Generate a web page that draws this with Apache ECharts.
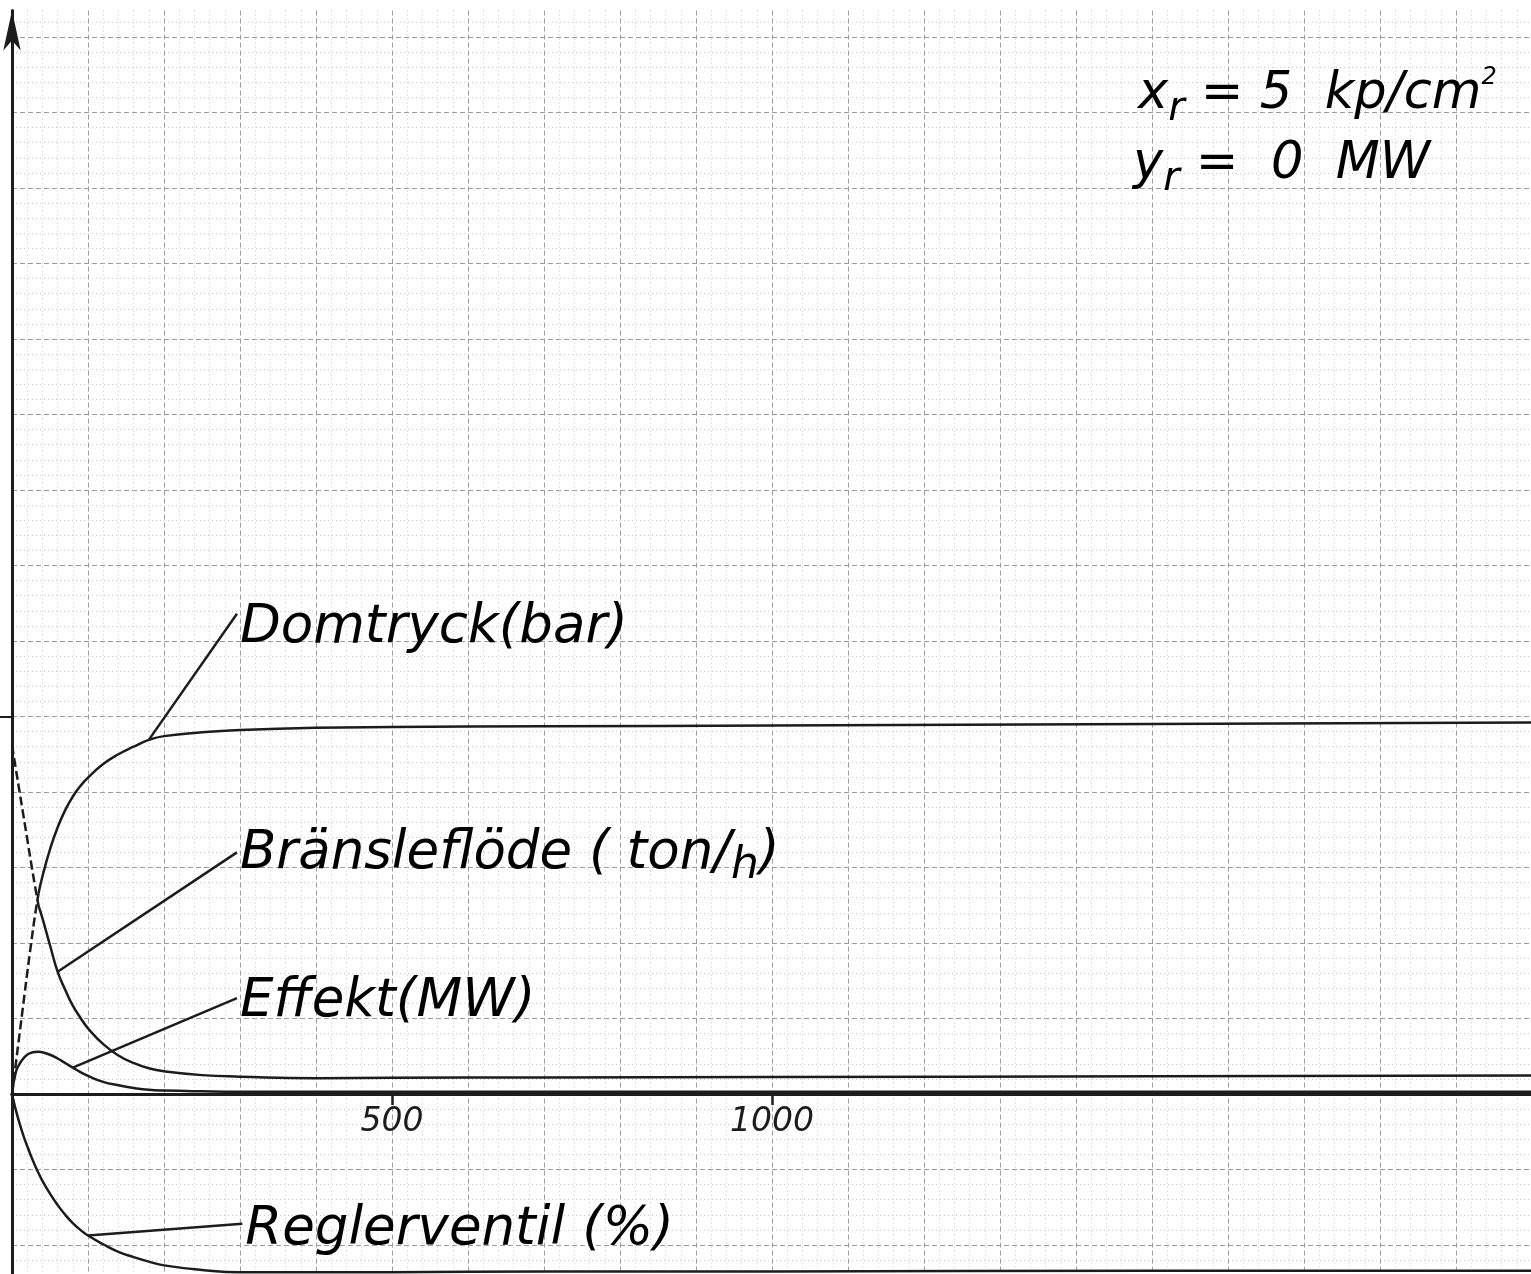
<!DOCTYPE html>
<html>
<head>
<meta charset="utf-8">
<title>Domtryck, bränsleflöde, effekt, reglerventil</title>
<script src="https://cdn.jsdelivr.net/npm/echarts@6/dist/echarts.min.js"></script>
<style>
  html, body { margin: 0; padding: 0; background: #fff; }
  #chart { width: 1531px; height: 1274px; }
</style>
</head>
<body>
<div id="chart"></div>
<script>
// tid (x-axeln)
const tid = [0, 5, 10, 15, 20, 25, 30, 35, 40, 50, 60, 70, 80, 90, 100, 120, 140, 160, 180, 200, 250, 300, 400, 500, 700, 1000, 1500, 2000]
// kurvor, en ruta = 1 enhet
const domtryck = [0, 0.40, 0.80, 1.20, 1.60, 1.98, 2.35, 2.66, 2.88, 3.24, 3.53, 3.76, 3.94, 4.08, 4.19, 4.37, 4.50, 4.60, 4.69, 4.74, 4.79, 4.82, 4.85, 4.86, 4.87, 4.88, 4.90, 4.92]
const bransleflode = [4.62, 4.31, 4.0, 3.69, 3.38, 3.07, 2.77, 2.49, 2.33, 1.97, 1.62, 1.38, 1.17, 1.01, 0.87, 0.66, 0.51, 0.41, 0.34, 0.30, 0.25, 0.23, 0.21, 0.215, 0.22, 0.225, 0.235, 0.245]
const effekt = [0, 0.29, 0.40, 0.47, 0.52, 0.545, 0.556, 0.558, 0.552, 0.52, 0.47, 0.41, 0.35, 0.29, 0.24, 0.16, 0.115, 0.08, 0.055, 0.045, 0.035, 0.03, 0.03, 0.03, 0.03, 0.03, 0.03, 0.03]
const reglerventil = [0, -0.21, -0.39, -0.55, -0.69, -0.82, -0.94, -1.05, -1.15, -1.32, -1.47, -1.60, -1.71, -1.80, -1.875, -1.99, -2.09, -2.16, -2.22, -2.27, -2.33, -2.36, -2.36, -2.36, -2.35, -2.35, -2.34, -2.34]
// siffror på tidsaxeln
const xTickLabels = [500, 1000]
const yTickMarks = [5]
// början av domtryck och bränsleflöde är streckad (t.o.m. index 7)
const dashEnd = 7

const font = "'DejaVu Sans', sans-serif"
const ink = '#1c1c1c'
const gridColor = '#9c9c9c'
const minorColor = '#c9c9c9'

// rutnätet: 75.5 px per enhet i höjd, nollan 1094 px från toppen
const unitPx = 75.5
const zeroPx = 1094
const yRange = {min: -3, max: 14.35}
const gridTop = zeroPx - yRange.max * unitPx
const gridBottomPx = zeroPx - yRange.min * unitPx

const chart = echarts.init(document.getElementById('chart'))

const pairs = (ys, from, to) => tid.slice(from, to).map((t, i) => [t, ys[from + i]])

const line = (name, data, dashed) => ({
  name: name,
  type: 'line',
  data: data,
  showSymbol: false,
  smooth: 0.5,
  silent: true,
  lineStyle: {color: ink, width: 2.5, type: dashed ? [9, 4] : 'solid'}
})

const option = {
  backgroundColor: '#ffffff',
  animation: false,
  grid: {left: 12, right: -1, top: gridTop, bottom: 1274 - gridBottomPx, outerBoundsMode: 'none', containLabel: false},
  xAxis: [{
    // rutnätet
    type: 'value',
    min: 0,
    max: 2000,
    interval: 100,
    axisLine: {onZero: true, lineStyle: {color: ink, width: 3}},
    axisTick: {show: false},
    axisLabel: {show: false},
    splitLine: {show: true, lineStyle: {color: gridColor, width: 1, type: [5, 3]}},
    minorTick: {show: false, splitNumber: 5},
    minorSplitLine: {show: true, lineStyle: {color: minorColor, width: 1, type: [1, 3]}}
  }, {
    // streck och siffror vid 500, 1000, flyttad upp till nollan
    type: 'value',
    position: 'bottom',
    offset: zeroPx - gridBottomPx,
    min: 0,
    max: 2000,
    axisLine: {show: true, onZero: false, lineStyle: {color: ink, width: 3}},
    axisTick: {show: true, customValues: xTickLabels, length: 11, lineStyle: {color: ink, width: 2.5}},
    axisLabel: {
      show: true,
      customValues: xTickLabels,
      formatter: v => String(v),
      margin: 12,
      fontSize: 33,
      fontStyle: 'italic',
      fontFamily: font,
      color: ink
    },
    splitLine: {show: false}
  }],
  yAxis: [{
    type: 'value',
    min: yRange.min,
    max: yRange.max,
    interval: 1,
    axisLine: {
      onZero: true,
      symbol: ['none', 'arrow'],
      symbolSize: [13, 40],
      symbolOffset: [0, 0],
      lineStyle: {color: ink, width: 3}
    },
    axisTick: {show: false},
    axisLabel: {show: false},
    splitLine: {show: true, showMaxLine: false, lineStyle: {color: gridColor, width: 1, type: [5, 3]}},
    minorTick: {show: false, splitNumber: 5},
    minorSplitLine: {show: true, lineStyle: {color: minorColor, width: 1, type: [1, 3]}}
  }, {
    type: 'value',
    position: 'left',
    min: yRange.min,
    max: yRange.max,
    axisLine: {show: false, onZero: true},
    axisTick: {show: true, customValues: yTickMarks, length: 12, lineStyle: {color: ink, width: 2}},
    axisLabel: {show: false},
    splitLine: {show: false}
  }],
  series: [
    line('Domtryck streckad', pairs(domtryck, 0, dashEnd + 1), true),
    line('Domtryck', pairs(domtryck, dashEnd, tid.length), false),
    line('Bränsleflöde streckad', pairs(bransleflode, 0, dashEnd + 1), true),
    line('Bränsleflöde', pairs(bransleflode, dashEnd, tid.length), false),
    line('Effekt', pairs(effekt, 0, tid.length), false),
    line('Reglerventil', pairs(reglerventil, 0, tid.length), false)
  ]
}
chart.setOption(option)

// etiketter med hänvisningslinjer, allt i datakoordinater
const labels = [
  {serie: domtryck, t: 180, end: [296, 6.36], at: [300, 6.17], rich: '{n|Domtryck(bar)}'},
  {serie: bransleflode, t: 60, end: [296, 3.2], at: [300, 3.18], rich: '{n|Bränsleflöde ( ton/}{h|h}{n|)}'},
  {serie: effekt, t: 80, end: [296, 1.27], at: [300, 1.21], rich: '{n|Effekt(MW)}'},
  {serie: reglerventil, t: 100, end: [303, -1.72], at: [307, -1.81], rich: '{n|Reglerventil (%)}'}
]
const hand = {fontFamily: font, fontStyle: 'italic', color: ink}
const labelRich = {
  n: Object.assign({fontSize: 53, lineHeight: 70, verticalAlign: 'middle'}, hand),
  h: Object.assign({fontSize: 44, lineHeight: 70, verticalAlign: 'bottom'}, hand)
}
const graphic = []
labels.forEach(l => {
  const a = chart.convertToPixel({xAxisIndex: 0, yAxisIndex: 0}, [l.t, l.serie[tid.indexOf(l.t)]])
  const b = chart.convertToPixel({xAxisIndex: 0, yAxisIndex: 0}, l.end)
  const c = chart.convertToPixel({xAxisIndex: 0, yAxisIndex: 0}, l.at)
  graphic.push({
    type: 'line',
    silent: true,
    shape: {x1: a[0], y1: a[1], x2: b[0], y2: b[1]},
    style: {stroke: ink, lineWidth: 2.5}
  })
  graphic.push({
    type: 'text',
    silent: true,
    x: c[0],
    y: c[1],
    style: {text: l.rich, verticalAlign: 'middle', align: 'left', rich: labelRich}
  })
})

// referensvärden uppe till höger
const noteRich = {
  m: Object.assign({fontSize: 51, lineHeight: 70, verticalAlign: 'middle'}, hand),
  s: Object.assign({fontSize: 40, lineHeight: 70, verticalAlign: 'bottom'}, hand),
  p: Object.assign({fontSize: 24, lineHeight: 70, verticalAlign: 'top', padding: [6, 0, 0, 0]}, hand)
}
graphic.push({
  type: 'text', silent: true, x: 1138, y: 60,
  style: {text: '{m|x}{s|r}{m| = 5  kp/cm}{p|2}', rich: noteRich}
})
graphic.push({
  type: 'text', silent: true, x: 1133, y: 130,
  style: {text: '{m|y}{s|r}{m| =  0  MW}', rich: noteRich}
})
chart.setOption({graphic: graphic})
</script>
</body>
</html>
